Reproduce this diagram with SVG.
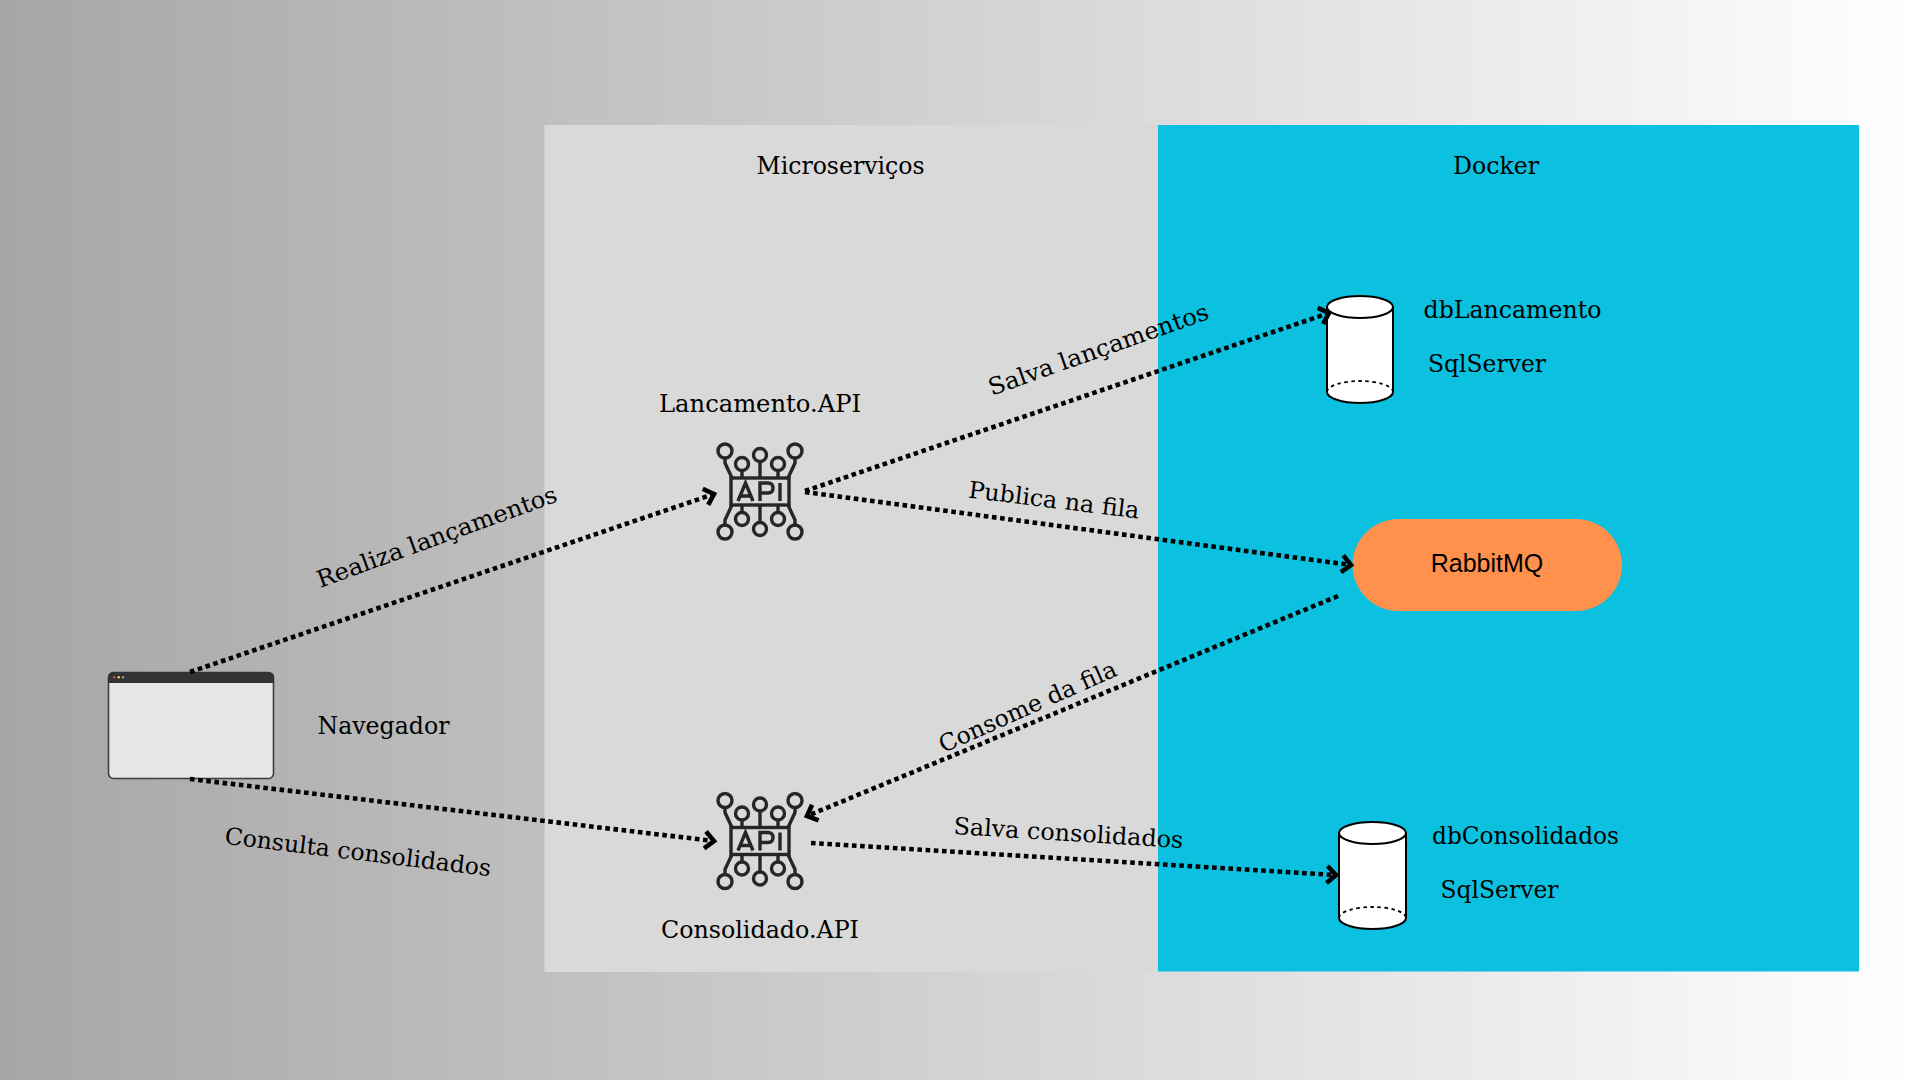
<svg xmlns="http://www.w3.org/2000/svg" xmlns:xlink="http://www.w3.org/1999/xlink" width="1920" height="1080" viewBox="0 0 1920 1080">
<style>
text{font-family:"DejaVu Serif","Liberation Serif",serif;font-size:23.5px;fill:#000;text-anchor:middle}
.c{fill:none;stroke:#000;stroke-width:4.6;stroke-dasharray:4.6 3.6;marker-end:url(#a)}
.ic *{fill:none;stroke:#262626;stroke-width:3.4}
.cy{fill:#fff;stroke:#000;stroke-width:2}
.cyd{fill:none;stroke:#000;stroke-width:1.8;stroke-dasharray:3.5 3.5}
</style>
<defs>
<linearGradient id="bg" x1="0" x2="1" y1="0" y2="0"><stop offset="0" stop-color="#a6a6a6"/><stop offset="1" stop-color="#fff"/></linearGradient>
<marker id="a" markerUnits="userSpaceOnUse" markerWidth="24" markerHeight="24" refX="18" refY="12" orient="auto" viewBox="0 0 24 24"><path d="M9 3.500L18 12L9 20.500" fill="none" stroke="#000" stroke-width="4.600" stroke-linecap="butt"/></marker>
<g id="api" class="ic">
<rect x="-29" y="-15" width="58" height="27"/>
<path d="M-22 8L-14.500 -10L-7 8M-19.500 3H-9.500M0 8V-10H8Q13 -10 13 -5T8 0H0M20 -10V8" stroke-width="3"/>
<circle cx="-35" cy="-42" r="7"/><circle cx="35" cy="-42" r="7"/><circle cx="-18" cy="-29" r="6.500"/><circle cx="18" cy="-29" r="6.500"/><circle cx="0" cy="-38" r="6.500"/>
<circle cx="-35" cy="39" r="7"/><circle cx="35" cy="39" r="7"/><circle cx="-18" cy="26" r="6.500"/><circle cx="18" cy="26" r="6.500"/><circle cx="0" cy="36" r="6.500"/>
<path d="M-35 -35V-30L-28 -15M35 -35V-30L28 -15M-18 -22.500V-15M18 -22.500V-15M0 -31.500V-15"/>
<path d="M-35 32V27L-28 12M35 32V27L28 12M-18 19.500V12M18 19.500V12M0 29.500V12"/>
</g>
</defs>
<rect width="1920" height="1080" fill="url(#bg)"/>
<rect id="microservicos" x="544.500" y="125" width="613.500" height="847" fill="#d9d9d9"/>
<rect id="docker" x="1158" y="125" width="701" height="846.500" fill="#0cc0df"/>
<text x="840.500" y="174" textLength="168" lengthAdjust="spacingAndGlyphs">Microserviços</text>
<text x="1496" y="174" textLength="86" lengthAdjust="spacingAndGlyphs">Docker</text>
<g id="navegador">
<rect x="108.500" y="672.500" width="165" height="106" rx="5" fill="#e6e6e6" stroke="#3d3d3d" stroke-width="1.600"/>
<path d="M108 683V678Q108 672 114 672H268Q274 672 274 678V683Z" fill="#333"/>
<circle cx="114.300" cy="677.300" r="1.200" fill="#e25555"/><circle cx="118.700" cy="677.300" r="1.200" fill="#e6e650"/><circle cx="123" cy="677.300" r="1.200" fill="#999"/>
<text x="383.500" y="734" textLength="132" lengthAdjust="spacingAndGlyphs">Navegador</text>
</g>
<g id="lancamento-api">
<use xlink:href="#api" href="#api" x="760" y="493"/>
<text x="760" y="412" textLength="202" lengthAdjust="spacingAndGlyphs">Lancamento.API</text>
</g>
<g id="consolidado-api">
<use xlink:href="#api" href="#api" x="760" y="842.500"/>
<text x="760" y="938" textLength="198" lengthAdjust="spacingAndGlyphs">Consolidado.API</text>
</g>
<g id="dblancamento">
<path class="cy" d="M1327 307V392A33 11 0 0 0 1393 392V307Z"/>
<ellipse class="cy" cx="1360" cy="307" rx="33" ry="11"/>
<path class="cyd" d="M1327 392A33 11 0 0 1 1393 392"/>
<text x="1512.500" y="318" textLength="178" lengthAdjust="spacingAndGlyphs">dbLancamento</text>
<text x="1487" y="372" textLength="118" lengthAdjust="spacingAndGlyphs">SqlServer</text>
</g>
<g id="dbconsolidados">
<path class="cy" d="M1339 833V918A33.500 11 0 0 0 1406 918V833Z"/>
<ellipse class="cy" cx="1372.500" cy="833" rx="33.500" ry="11"/>
<path class="cyd" d="M1339 918A33.500 11 0 0 1 1406 918"/>
<text x="1525.500" y="844" textLength="187" lengthAdjust="spacingAndGlyphs">dbConsolidados</text>
<text x="1499.500" y="898" textLength="118" lengthAdjust="spacingAndGlyphs">SqlServer</text>
</g>
<g id="rabbitmq">
<rect x="1352.500" y="519" width="269.500" height="92" rx="46" fill="#ff914d"/>
<text x="1487" y="572" style="font-family:'Liberation Sans',sans-serif;font-size:25px">RabbitMQ</text>
</g>
<g id="connectors">
<path class="c" d="M190 672L714 494"/>
<path class="c" d="M190 779L714 841"/>
<path class="c" d="M805 491L1329 313"/>
<path class="c" d="M805 492L1351 565"/>
<path class="c" d="M1338 596L807 816"/>
<path class="c" d="M811 843L1336 875"/>
</g>
<g id="connector-labels">
<text transform="translate(439.500,544.500) rotate(-20)" textLength="254" lengthAdjust="spacingAndGlyphs">Realiza lançamentos</text>
<text transform="translate(357,860) rotate(7)" textLength="268" lengthAdjust="spacingAndGlyphs">Consulta consolidados</text>
<text transform="translate(1101,357) rotate(-19.500)" textLength="232" lengthAdjust="spacingAndGlyphs">Salva lançamentos</text>
<text transform="translate(1053,508) rotate(7)" textLength="172" lengthAdjust="spacingAndGlyphs">Publica na fila</text>
<text transform="translate(1031,714) rotate(-24)" textLength="192" lengthAdjust="spacingAndGlyphs">Consome da fila</text>
<text transform="translate(1068,841) rotate(3.500)" textLength="230" lengthAdjust="spacingAndGlyphs">Salva consolidados</text>
</g>
</svg>
